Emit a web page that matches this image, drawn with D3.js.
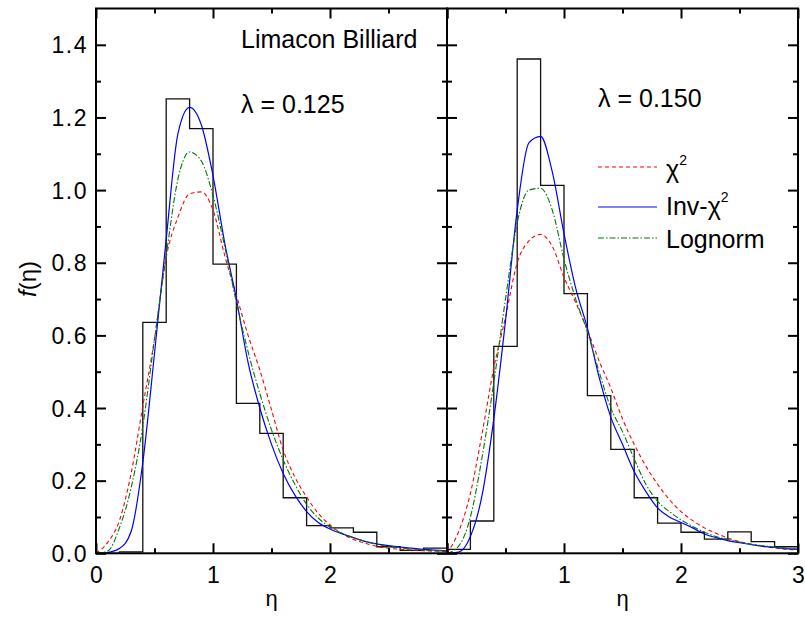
<!DOCTYPE html>
<html>
<head>
<meta charset="utf-8">
<script src="https://cdn.jsdelivr.net/npm/d3@7/dist/d3.min.js"></script>
<style>
  html, body { margin: 0; background: #fff; }
  svg { display: block; }
</style>
</head>
<body>
<svg id="chart" width="805" height="617"></svg>
<script>
// sample points of the fitted curves
const ETA = [0, 0.1, 0.2, 0.3, 0.4, 0.5, 0.6, 0.7, 0.8, 0.9, 1.0, 1.1, 1.2, 1.3, 1.4, 1.5,
  1.6, 1.7, 1.8, 1.9, 2.0, 2.1, 2.2, 2.3, 2.4, 2.5, 2.6, 2.7, 2.8, 2.9, 3.0];

// lambda = 0.125
const CHI2_L = [0, 0.03, 0.09, 0.22, 0.405, 0.59, 0.815, 0.925, 0.99, 0.995, 0.945, 0.82, 0.71, 0.60, 0.505, 0.395,
  0.284, 0.21, 0.155, 0.11, 0.078, 0.055, 0.038, 0.028, 0.019, 0.014, 0.011, 0.009, 0.007, 0.006, 0.005];
const INV_L = [0, 0.002, 0.013, 0.06, 0.25, 0.55, 0.865, 1.155, 1.228, 1.18, 1.04, 0.855, 0.70, 0.525, 0.40, 0.30,
  0.22, 0.16, 0.115, 0.085, 0.067, 0.054, 0.043, 0.033, 0.026, 0.021, 0.017, 0.014, 0.011, 0.009, 0.007];
const LOGN_L = [0, 0.006, 0.07, 0.18, 0.35, 0.59, 0.82, 1.03, 1.105, 1.08, 0.985, 0.845, 0.69, 0.555, 0.44, 0.34,
  0.257, 0.19, 0.135, 0.097, 0.072, 0.055, 0.043, 0.033, 0.025, 0.019, 0.015, 0.012, 0.009, 0.007, 0.006];

// lambda = 0.150
const CHI2_R = [0, 0.06, 0.165, 0.33, 0.51, 0.65, 0.80, 0.86, 0.878, 0.845, 0.76, 0.69, 0.615, 0.53, 0.455, 0.37,
  0.30, 0.24, 0.19, 0.148, 0.115, 0.09, 0.07, 0.055, 0.042, 0.032, 0.025, 0.019, 0.015, 0.011, 0.009];
const INV_R = [0, 0.003, 0.046, 0.16, 0.37, 0.64, 0.945, 1.13, 1.148, 1.05, 0.88, 0.73, 0.62, 0.485, 0.375, 0.30,
  0.225, 0.17, 0.125, 0.10, 0.085, 0.07, 0.053, 0.043, 0.035, 0.029, 0.024, 0.019, 0.016, 0.013, 0.011];
const LOGN_R = [0, 0.02, 0.10, 0.265, 0.47, 0.70, 0.91, 1.0, 1.005, 0.945, 0.81, 0.70, 0.61, 0.50, 0.40, 0.335,
  0.26, 0.19, 0.143, 0.115, 0.092, 0.074, 0.058, 0.046, 0.038, 0.031, 0.025, 0.021, 0.017, 0.014, 0.012];

// histograms, bin width 0.2
const BIN_EDGES = [0, 0.2, 0.4, 0.6, 0.8, 1.0, 1.2, 1.4, 1.6, 1.8, 2.0, 2.2, 2.4, 2.6, 2.8, 3.0];
const HIST_L = [0, 0.004, 0.636, 1.251, 1.169, 0.796, 0.413, 0.330, 0.153, 0.076, 0.070, 0.058, 0.018, 0.008, 0.014];
const HIST_R = [0.011, 0.089, 0.570, 1.361, 1.013, 0.715, 0.434, 0.286, 0.153, 0.083, 0.058, 0.039, 0.059, 0.032, 0.018];

const Y_TICKS = [0, 0.2, 0.4, 0.6, 0.8, 1.0, 1.2, 1.4];
const Y_MINOR = [0.1, 0.3, 0.5, 0.7, 0.9, 1.1, 1.3];
const X_TICKS = [0, 1, 2, 3];
const X_MINOR = [0.5, 1.5, 2.5];

const SERIES = [
  { key: "chi2", name: "χ", sup: "2", color: "#ff0000", dash: "4 3", width: 1.1 },
  { key: "inv", name: "Inv-χ", sup: "2", color: "#0000ff", dash: null, width: 1.2 },
  { key: "logn", name: "Lognorm", sup: "", color: "#007a00", dash: "6 2 1.5 2", width: 1.1 },
];

const PANELS = [
  { x0: 96, x1: 447, hist: HIST_L, curves: { chi2: CHI2_L, inv: INV_L, logn: LOGN_L }, xLabels: [0, 1, 2], yLabels: true },
  { x0: 447, x1: 798, hist: HIST_R, curves: { chi2: CHI2_R, inv: INV_R, logn: LOGN_R }, xLabels: [0, 1, 2, 3], yLabels: false },
];

const FONT = "'Liberation Sans', Arial, sans-serif";
const TOP = 8.5, BOT = 553.3;
const svg = d3.select("#chart");
const y = d3.scaleLinear().domain([0, 1.5]).range([BOT, TOP]);

PANELS.forEach((p, pi) => {
  const x = d3.scaleLinear().domain([0, 3]).range([p.x0, p.x1]);
  const g = svg.append("g");
  const clipId = "clip" + pi;
  svg.append("clipPath").attr("id", clipId).append("rect")
    .attr("x", p.x0).attr("y", TOP).attr("width", p.x1 - p.x0).attr("height", BOT - TOP);

  const plot = g.append("g").attr("clip-path", `url(#${clipId})`);

  // histogram outline
  const histPts = p.hist.map((v, i) => [BIN_EDGES[i], v]);
  histPts.push([BIN_EDGES[BIN_EDGES.length - 1], p.hist[p.hist.length - 1]]);
  plot.append("path")
    .attr("d", d3.line().x(d => x(d[0])).y(d => y(d[1])).curve(d3.curveStepAfter)(histPts))
    .attr("fill", "none").attr("stroke", "#111").attr("stroke-width", 1.3);

  // fitted curves
  const line = d3.line().x(d => x(d[0])).y(d => y(d[1])).curve(d3.curveMonotoneX);
  SERIES.forEach(s => {
    plot.append("path")
      .attr("d", line(ETA.map((e, i) => [e, p.curves[s.key][i]])))
      .attr("fill", "none").attr("stroke", s.color).attr("stroke-width", s.width)
      .attr("stroke-dasharray", s.dash);
  });

  // inward ticks on all four sides
  const tickStyle = sel => sel.call(a => a.select(".domain").remove())
    .call(a => a.selectAll("line").attr("stroke", "#000").attr("stroke-width", 2));
  g.append("g").attr("transform", `translate(0,${BOT})`)
    .call(d3.axisBottom(x).tickValues(X_TICKS).tickSize(-10).tickFormat("")).call(tickStyle);
  g.append("g").attr("transform", `translate(0,${BOT})`)
    .call(d3.axisBottom(x).tickValues(X_MINOR).tickSize(-5).tickFormat("")).call(tickStyle);
  g.append("g").attr("transform", `translate(0,${TOP})`)
    .call(d3.axisTop(x).tickValues(X_TICKS).tickSize(-10).tickFormat("")).call(tickStyle);
  g.append("g").attr("transform", `translate(0,${TOP})`)
    .call(d3.axisTop(x).tickValues(X_MINOR).tickSize(-5).tickFormat("")).call(tickStyle);
  g.append("g").attr("transform", `translate(${p.x0},0)`)
    .call(d3.axisLeft(y).tickValues(Y_TICKS).tickSize(-10).tickFormat("")).call(tickStyle);
  g.append("g").attr("transform", `translate(${p.x0},0)`)
    .call(d3.axisLeft(y).tickValues(Y_MINOR).tickSize(-5).tickFormat("")).call(tickStyle);
  g.append("g").attr("transform", `translate(${p.x1},0)`)
    .call(d3.axisRight(y).tickValues(Y_TICKS).tickSize(-10).tickFormat("")).call(tickStyle);
  g.append("g").attr("transform", `translate(${p.x1},0)`)
    .call(d3.axisRight(y).tickValues(Y_MINOR).tickSize(-5).tickFormat("")).call(tickStyle);

  // frame
  g.append("rect").attr("x", p.x0).attr("y", TOP).attr("width", p.x1 - p.x0).attr("height", BOT - TOP)
    .attr("fill", "none").attr("stroke", "#000").attr("stroke-width", 2);

  // x tick labels
  p.xLabels.forEach(v => {
    g.append("text").attr("x", x(v) + 1).attr("y", 583)
      .attr("text-anchor", "middle")
      .attr("style", `font:23px ${FONT};fill:#000;letter-spacing:1px`)
      .text(v);
  });
  // x title
  g.append("text").attr("x", (p.x0 + p.x1) / 2).attr("y", 606)
    .attr("text-anchor", "middle")
    .attr("style", `font:22px ${FONT};fill:#000`)
    .text("η");

  if (p.yLabels) {
    Y_TICKS.forEach(v => {
      g.append("text").attr("x", 88).attr("y", y(v) + 8.5)
        .attr("text-anchor", "end")
        .attr("style", `font:23px ${FONT};fill:#000;letter-spacing:1.5px`)
        .text(d3.format(".1f")(v));
    });
  }
});

// y title f(η)
const yt = svg.append("text")
  .attr("transform", "translate(36,279) rotate(-90)")
  .attr("text-anchor", "middle")
  .attr("style", `font:24px ${FONT};fill:#000`);
yt.append("tspan").attr("font-style", "italic").text("f");
yt.append("tspan").text("(η)");

// annotations
const ann = (tx, ty, s) => svg.append("text").attr("x", tx).attr("y", ty)
  .attr("style", `font:25px ${FONT};fill:#000`).text(s);
ann(241, 48, "Limacon Billiard");
ann(241, 113, "λ = 0.125");
ann(598, 107, "λ = 0.150");

// legend
const LEG_Y = [167, 207, 238];
const LEG_BASE = [178, 215, 248];
SERIES.forEach((s, i) => {
  svg.append("line").attr("x1", 598).attr("x2", 657).attr("y1", LEG_Y[i]).attr("y2", LEG_Y[i])
    .attr("stroke", s.color).attr("stroke-width", s.width).attr("stroke-dasharray", s.dash);
  const t = svg.append("text").attr("x", 666).attr("y", LEG_BASE[i])
    .attr("style", `font:25px ${FONT};fill:#000`);
  t.append("tspan").text(s.name);
  if (s.sup) t.append("tspan").attr("dy", -13).attr("style", `font:14px ${FONT}`).text(s.sup);
});
</script>
</body>
</html>
